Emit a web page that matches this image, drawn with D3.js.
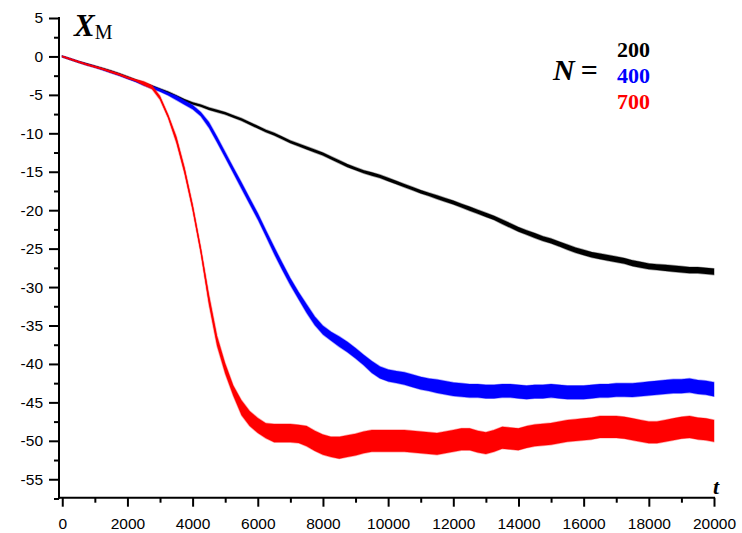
<!DOCTYPE html>
<html>
<head>
<meta charset="utf-8">
<script src="https://cdn.jsdelivr.net/npm/d3@7"></script>
<style>
  html, body { margin: 0; padding: 0; background: #fff; }
  svg { display: block; }
</style>
</head>
<body>
<svg id="chart" width="742" height="533"></svg>
<script>
// Sampling times (every 250 steps)
const times = d3.range(0, 20001, 250);

// Mean trajectory X_M(t) for each chain length N
const xm200 = [
  0, -0.35, -0.7, -1.0, -1.3, -1.6, -1.95, -2.3, -2.7, -3.1, -3.5, -3.9, -4.3, -4.7, -5.2, -5.7,
  -6.1, -6.4, -6.8, -7.1, -7.4, -7.8, -8.2, -8.7, -9.2, -9.7, -10.1, -10.6, -11.1, -11.5, -11.9, -12.3,
  -12.7, -13.2, -13.7, -14.2, -14.6, -15.0, -15.3, -15.6, -16.0, -16.4, -16.8, -17.2, -17.6, -17.95, -18.3, -18.65,
  -19.0, -19.4, -19.8, -20.2, -20.6, -21.0, -21.5, -22.0, -22.5, -22.9, -23.3, -23.7, -24.0, -24.4, -24.8, -25.2,
  -25.5, -25.8, -26.0, -26.2, -26.4, -26.6, -26.9, -27.1, -27.3, -27.4, -27.5, -27.6, -27.7, -27.8, -27.8, -27.9,
  -28.0
];
const xm400 = [
  0, -0.35, -0.7, -1.05, -1.35, -1.7, -2.05, -2.4, -2.8, -3.2, -3.6, -4.0, -4.4, -4.9, -5.4, -6.0,
  -6.6, -7.5, -8.9, -10.8, -12.8, -14.8, -16.8, -18.8, -20.8, -23.0, -25.2, -27.3, -29.3, -31.1, -32.8, -34.4,
  -35.6, -36.4, -37.1, -37.8, -38.6, -39.5, -40.4, -41.1, -41.5, -41.7, -41.9, -42.2, -42.5, -42.7, -42.9, -43.1,
  -43.3, -43.4, -43.5, -43.5, -43.6, -43.6, -43.5, -43.5, -43.6, -43.7, -43.6, -43.6, -43.5, -43.6, -43.7, -43.7,
  -43.7, -43.6, -43.5, -43.5, -43.4, -43.4, -43.4, -43.3, -43.2, -43.1, -43.0, -42.9, -42.9, -42.8, -43.0, -43.1,
  -43.3
];
const xm700 = [
  0, -0.35, -0.7, -1.05, -1.35, -1.65, -2.0, -2.35, -2.75, -3.1, -3.5, -4.0, -5.4, -7.8, -10.8, -14.8,
  -19.6, -25.2, -31.6, -37.0, -40.6, -43.5, -45.7, -47.1, -48.0, -48.7, -49.0, -49.0, -49.0, -49.1, -49.4, -50.0,
  -50.5, -50.8, -50.9, -50.7, -50.5, -50.2, -50.0, -50.0, -50.0, -50.0, -50.0, -50.1, -50.2, -50.3, -50.4, -50.2,
  -50.0, -49.8, -49.8, -50.1, -50.3, -50.0, -49.6, -49.7, -49.8, -49.5, -49.3, -49.2, -49.1, -48.9, -48.7, -48.6,
  -48.5, -48.4, -48.2, -48.2, -48.2, -48.3, -48.5, -48.7, -48.9, -48.9, -48.7, -48.5, -48.3, -48.2, -48.4, -48.5,
  -48.7
];

// Fluctuation half-width around the mean, one value per 1000 steps
const spread200 = [0.08, 0.1, 0.12, 0.14, 0.15, 0.16, 0.17, 0.18, 0.2, 0.2, 0.22, 0.22, 0.25, 0.27, 0.3, 0.32, 0.35, 0.37, 0.38, 0.4, 0.4];
const spread400 = [0.08, 0.1, 0.12, 0.18, 0.28, 0.38, 0.42, 0.48, 0.58, 0.68, 0.78, 0.82, 0.88, 0.88, 0.88, 0.88, 0.88, 0.88, 0.9, 0.92, 0.92];
const spread700 = [0.08, 0.1, 0.12, 0.25, 0.42, 0.68, 0.98, 1.18, 1.32, 1.42, 1.42, 1.42, 1.42, 1.42, 1.42, 1.42, 1.42, 1.42, 1.42, 1.42, 1.42];

// Legend entries and series colours
const chainLengths = ["200", "400", "700"];
const seriesColors = ["#000000", "#0000ff", "#ff0000"];

const xTicksMajor = d3.range(0, 20001, 2000);
const xTicksMinor = d3.range(1000, 20000, 2000);
const yTicksMajor = d3.range(5, -56, -5);
const yTicksMinor = d3.range(2.5, -58, -5);

const svg = d3.select("#chart");

const x = d3.scaleLinear().domain([-100, 20000]).range([59, 714]);
const y = d3.scaleLinear().domain([5, -57.4]).range([18, 497.7]);

const series = [
  { values: xm200, spread: spread200, color: seriesColors[0] },
  { values: xm400, spread: spread400, color: seriesColors[1] },
  { values: xm700, spread: spread700, color: seriesColors[2] }
];

// Each trajectory: a filled fluctuation band (soft fringe) with its mean line on top
const band = d3.area()
  .x(d => x(d.t))
  .y0(d => y(d.v - d.s))
  .y1(d => y(d.v + d.s));

const line = d3.line()
  .x(d => x(d.t))
  .y(d => y(d.v));

const plot = svg.append("g");
series.forEach(s => {
  const pts = times.map((t, i) => ({ t, v: s.values[i], s: s.spread[Math.round(t / 1000)] }));
  plot.append("path")
    .attr("d", band(pts))
    .attr("fill", s.color)
    .attr("stroke", s.color)
    .attr("stroke-opacity", 0.35)
    .attr("stroke-width", 1.4)
    .attr("stroke-linejoin", "round");
  plot.append("path")
    .attr("d", line(pts))
    .attr("fill", "none")
    .attr("stroke", s.color)
    .attr("stroke-width", 1.2);
});

// Axis lines
const axisG = svg.append("g").attr("stroke", "#000").attr("stroke-width", 2);
axisG.append("line").attr("x1", 59).attr("x2", 59).attr("y1", y(5) - 1).attr("y2", 498.7);
axisG.append("line").attr("x1", 58).attr("x2", 715).attr("y1", 497.7).attr("y2", 497.7);

// Bottom axis: labelled major ticks and unlabelled minor ticks
const xAxis = d3.axisBottom(x).tickValues(xTicksMajor).tickSize(9).tickSizeOuter(0).tickPadding(11)
  .tickFormat(d3.format("d"));
const gx = svg.append("g").attr("transform", "translate(0,497.7)").call(xAxis);
gx.select(".domain").remove();
gx.selectAll(".tick line").attr("stroke-width", 2);
gx.selectAll(".tick text")
  .attr("font-family", "Liberation Sans, Arial, sans-serif")
  .attr("font-size", 15.5)
  .attr("fill", "#000");

const gxm = svg.append("g").attr("transform", "translate(0,497.7)")
  .call(d3.axisBottom(x).tickValues(xTicksMinor).tickSize(5).tickSizeOuter(0).tickFormat(""));
gxm.select(".domain").remove();
gxm.selectAll(".tick line").attr("stroke-width", 2);

// Left axis
const yAxis = d3.axisLeft(y).tickValues(yTicksMajor).tickSize(10).tickSizeOuter(0).tickPadding(6)
  .tickFormat(d => d < 0 ? "-" + Math.abs(d) : String(d));
const gy = svg.append("g").attr("transform", "translate(59,0)").call(yAxis);
gy.select(".domain").remove();
gy.selectAll(".tick line").attr("stroke-width", 2);
gy.selectAll(".tick text")
  .attr("font-family", "Liberation Sans, Arial, sans-serif")
  .attr("font-size", 15.5)
  .attr("fill", "#000");

const gym = svg.append("g").attr("transform", "translate(59,0)")
  .call(d3.axisLeft(y).tickValues(yTicksMinor).tickSize(5).tickSizeOuter(0).tickFormat(""));
gym.select(".domain").remove();
gym.selectAll(".tick line").attr("stroke-width", 2);

// Axis titles
const serif = "Liberation Serif, Times New Roman, serif";
const yt = svg.append("text").attr("x", 74).attr("y", 36).attr("font-family", serif);
yt.append("tspan").attr("font-size", 31).attr("font-weight", "bold").attr("font-style", "italic").text("X");
yt.append("tspan").attr("font-size", 20).attr("dy", 3).text("M");

svg.append("text").attr("x", 713).attr("y", 494)
  .attr("font-family", serif).attr("font-size", 22)
  .attr("font-weight", "bold").attr("font-style", "italic").text("t");

// Legend
svg.append("text").attr("x", 553).attr("y", 80)
  .attr("font-family", serif).attr("font-size", 30).attr("font-weight", "bold")
  .call(t => {
    t.append("tspan").attr("font-style", "italic").text("N");
    t.append("tspan").attr("dx", 6).text("=");
  });
chainLengths.forEach((n, i) => {
  svg.append("text")
    .attr("x", 617).attr("y", 57 + i * 26.2)
    .attr("font-family", serif).attr("font-size", 22).attr("font-weight", "bold")
    .attr("fill", seriesColors[i])
    .text(n);
});
</script>
</body>
</html>
